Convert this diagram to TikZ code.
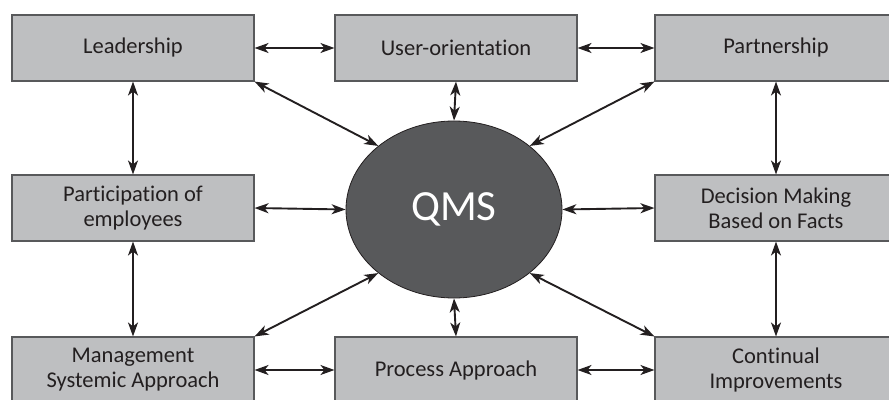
\documentclass[tikz,border=0pt]{standalone}
\usepackage{fontspec}
\setmainfont{Carlito}[Ligatures={NoCommon}]
\usetikzlibrary{arrows.meta,shapes.geometric}
\definecolor{boxfill}{HTML}{BEBFC1}
\definecolor{boxline}{HTML}{58595B}
\definecolor{ink}{HTML}{231F20}
\definecolor{qmsfill}{HTML}{58595B}
\begin{document}
\begin{tikzpicture}[x=1pt,y=-1pt,
  box/.style={draw=boxline, line width=1.1pt, fill=boxfill, minimum width=242pt,
    minimum height=66pt, inner sep=0pt, align=center, text=ink,
    font=\fontsize{22.5}{25}\selectfont},
  conn/.style={draw=ink, line width=1.9pt,
    {Stealth[length=14pt,width=10pt,inset=4pt]}-{Stealth[length=14pt,width=10pt,inset=4pt]}}]
\useasboundingbox (0,0) rectangle (889,399);
\fill[white] (0,0) rectangle (889,399);
% nodes
\node[box] (lead) at (133,48) {Leadership};
\node[box] (user) at (456,48) {User-orientation};
\node[box] (part) at (776,48) {Partnership};
\node[box] (emp)  at (133,208) {Participation of\\employees};
\node[box] (dec)  at (776,208) {Decision Making\\Based on Facts};
\node[box] (mgmt) at (133,370) {Management\\Systemic Approach};
\node[box] (proc) at (456,370) {Process Approach};
\node[box] (cont) at (776,370) {Continual\\Improvements};
\node[ellipse, draw=ink, line width=0.8pt, fill=qmsfill, minimum width=216pt,
  minimum height=177pt, inner sep=0pt, text=white,
  font=\fontsize{43}{45}\selectfont] (qms) at (454,209.5) {QMS};
% connectors
\draw[conn] (lead.east) -- (user.west);
\draw[conn] (user.east) -- (part.west);
\draw[conn] (mgmt.east) -- (proc.west);
\draw[conn] (proc.east) -- (cont.west);
\draw[conn] (lead.south) -- (emp.north);
\draw[conn] (emp.south) -- (mgmt.north);
\draw[conn] (part.south) -- (dec.north);
\draw[conn] (dec.south) -- (cont.north);
\draw[conn] (user.south) -- (qms.north);
\draw[conn] (proc.north) -- (qms.south);
\draw[conn] (emp.east) -- (qms.west);
\draw[conn] (dec.west) -- (qms.east);
\draw[conn] (lead.south east) -- (qms.140);
\draw[conn] (part.south west) -- (qms.40);
\draw[conn] (mgmt.north east) -- (qms.220);
\draw[conn] (cont.north west) -- (qms.320);
\end{tikzpicture}
\end{document}
